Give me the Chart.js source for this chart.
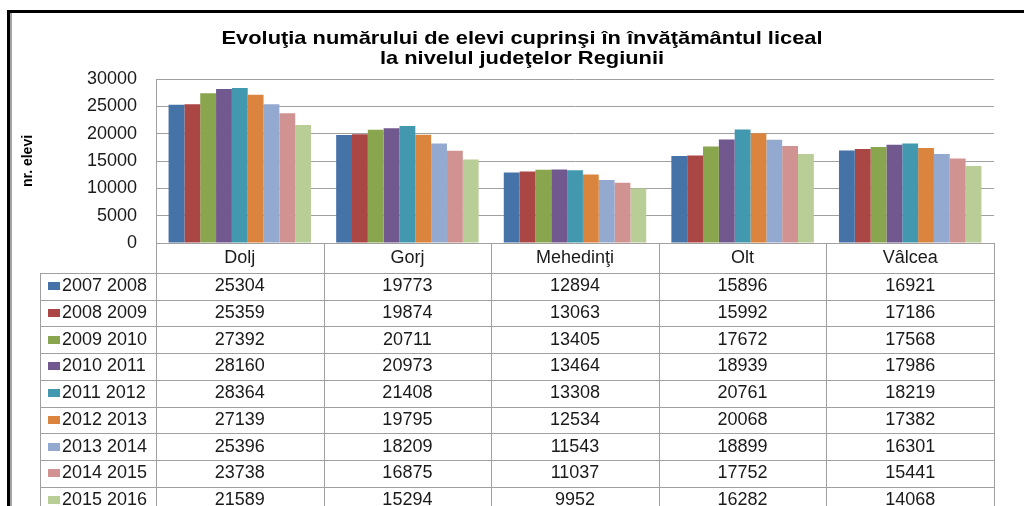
<!DOCTYPE html>
<html lang="ro">
<head>
<meta charset="UTF-8">
<title>Evoluţia numărului de elevi</title>
<script src="https://cdn.jsdelivr.net/npm/chart.js"></script>
<style>
  body {
    margin: 0;
    padding: 0;
    background: #fff;
  }
  #wrap {
    position: relative;
    width: 1024px;
    height: 506px;
  }
</style>
</head>
<body>
<div id="wrap"><canvas id="eleviChart"></canvas></div>

<script>
  // date citite din tabelul graficului
  const judete = ['Dolj', 'Gorj', 'Mehedinţi', 'Olt', 'Vâlcea'];
  const aniScolari = ['2007 2008', '2008 2009', '2009 2010', '2010 2011', '2011 2012',
                      '2012 2013', '2013 2014', '2014 2015', '2015 2016'];
  const an0708 = [25304, 19773, 12894, 15896, 16921];
  const an0809 = [25359, 19874, 13063, 15992, 17186];
  const an0910 = [27392, 20711, 13405, 17672, 17568];
  const an1011 = [28160, 20973, 13464, 18939, 17986];
  const an1112 = [28364, 21408, 13308, 20761, 18219];
  const an1213 = [27139, 19795, 12534, 20068, 17382];
  const an1314 = [25396, 18209, 11543, 18899, 16301];
  const an1415 = [23738, 16875, 11037, 17752, 15441];
  const an1516 = [21589, 15294, 9952, 16282, 14068];
  const yTicks = [0, 5000, 10000, 15000, 20000, 25000, 30000];
  const titlu = ['Evoluţia numărului de elevi cuprinşi în învăţământul liceal',
                 'la nivelul judeţelor Regiunii'];

  const serii = [an0708, an0809, an0910, an1011, an1112, an1213, an1314, an1415, an1516];
  const culori = ['#4572A7', '#AA4643', '#89A54E', '#71588F', '#4198AF',
                  '#DB843D', '#93A9CF', '#D19392', '#B9CD96'];

  const FONT = '"Liberation Sans", Arial, sans-serif';

  // titlu, chenar si tabelul de date de sub grafic
  const tabelPlugin = {
    id: 'tabel',
    afterDraw(chart) {
      const ctx = chart.ctx;
      const area = chart.chartArea;
      const x = chart.scales.x;
      const headH = 30;
      const rowH = 26.7;
      const legLeft = 40;
      const w = x.getPixelForValue(1) - x.getPixelForValue(0);
      const bottom = chart.height;

      ctx.save();

      // chenar
      ctx.fillStyle = '#000';
      ctx.fillRect(7, 10, chart.width - 7, 3);
      ctx.fillRect(7, 10, 3, bottom - 10);
      ctx.fillStyle = '#a5a5a5';
      ctx.fillRect(10, 13, 2, bottom - 13);

      // titlu
      ctx.fillStyle = '#000';
      ctx.font = 'bold 19px ' + FONT;
      ctx.textAlign = 'center';
      ctx.textBaseline = 'alphabetic';
      titlu.forEach((t, i) => {
        ctx.save();
        ctx.translate(522, 44 + i * 20);
        ctx.scale(1.15, 1);
        ctx.fillText(t, 0, 0);
        ctx.restore();
      });

      // linii tabel
      ctx.strokeStyle = '#a0a0a0';
      ctx.lineWidth = 1;
      ctx.beginPath();
      for (let i = 0; i <= judete.length; i++) {
        const xp = Math.round(x.getPixelForValue(i) - w / 2) + 0.5;
        ctx.moveTo(xp, area.bottom);
        ctx.lineTo(xp, bottom);
      }
      ctx.moveTo(legLeft + 0.5, area.bottom + headH);
      ctx.lineTo(legLeft + 0.5, bottom);
      for (let r = 0; r <= aniScolari.length; r++) {
        const yp = Math.round(area.bottom + headH + r * rowH) + 0.5;
        ctx.moveTo(legLeft, yp);
        ctx.lineTo(area.right, yp);
      }
      ctx.stroke();

      // capul de tabel (judete)
      ctx.fillStyle = '#1a1a1a';
      ctx.font = '18px ' + FONT;
      ctx.textBaseline = 'middle';
      ctx.textAlign = 'center';
      judete.forEach((j, i) => {
        ctx.fillText(j, x.getPixelForValue(i), area.bottom + headH / 2);
      });

      // randuri cu valori
      chart.data.datasets.forEach((ds, r) => {
        const yc = area.bottom + headH + r * rowH + rowH / 2;
        ctx.fillStyle = ds.backgroundColor;
        ctx.fillRect(legLeft + 8, Math.round(yc - 4), 12, 8);
        ctx.fillStyle = '#1a1a1a';
        ctx.textAlign = 'left';
        ctx.fillText(ds.label, legLeft + 22, yc);
        ctx.textAlign = 'center';
        ds.data.forEach((v, i) => {
          ctx.fillText(String(v), x.getPixelForValue(i), yc);
        });
      });

      ctx.restore();
    }
  };

  const ctx = document.getElementById('eleviChart').getContext('2d');
  const eleviChart = new Chart(ctx, {
    type: 'bar',
    data: {
      labels: judete,
      datasets: aniScolari.map((an, i) => ({
        label: an,
        data: serii[i],
        backgroundColor: culori[i],
        borderWidth: 0,
        categoryPercentage: 0.85,
        barPercentage: 1
      }))
    },
    options: {
      responsive: true,
      maintainAspectRatio: false,
      animation: false,
      layout: {
        padding: { top: 79, right: 30, bottom: 263, left: 14 }
      },
      plugins: {
        legend: { display: false },
        title: { display: false },
        tooltip: { enabled: false }
      },
      scales: {
        x: {
          display: false
        },
        y: {
          min: 0,
          max: 30000,
          afterBuildTicks: (scale) => {
            scale.ticks = yTicks.map(v => ({ value: v }));
          },
          afterFit: (scale) => {
            scale.width = 142;
          },
          ticks: {
            padding: 19,
            color: '#1a1a1a',
            font: { family: FONT, size: 18 },
            callback: (v) => String(v)
          },
          grid: {
            color: '#a0a0a0',
            drawTicks: false
          },
          border: { color: '#a0a0a0' },
          title: {
            display: true,
            text: 'nr. elevi',
            color: '#000',
            padding: { top: 6, bottom: 0 },
            font: { family: FONT, size: 14, weight: 'bold' }
          }
        }
      }
    },
    plugins: [tabelPlugin]
  });
</script>
</body>
</html>
